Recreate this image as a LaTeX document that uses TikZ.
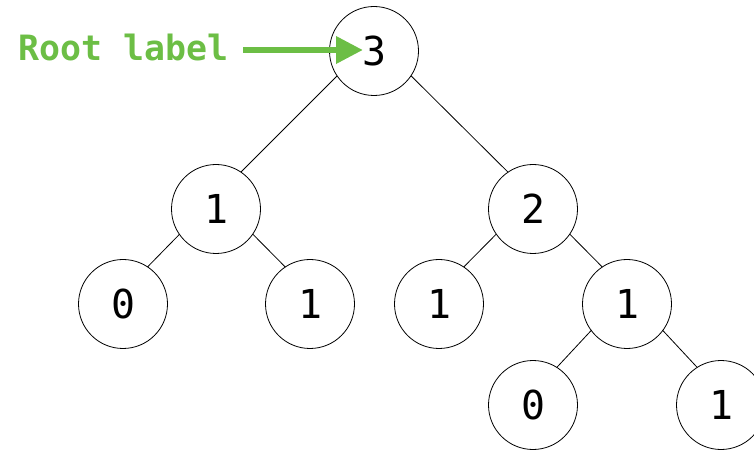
\documentclass[tikz,border=0pt]{standalone}
\usepackage{fontspec}
\setmonofont{DejaVu Sans Mono}
\usepackage{xcolor}
\usepackage{tikz}
\usetikzlibrary{arrows.meta}
\definecolor{labelgreen}{RGB}{108,190,69}
\tikzset{
  treenode/.style={draw, circle, line width=0.8bp, minimum size=89bp, inner sep=0pt,
    font=\ttfamily\fontsize{40}{40}\selectfont},
  treeedge/.style={line width=0.8bp, shorten <=52bp, shorten >=35bp},
}
\newcommand{\edge}[2]{\draw[treeedge] ([yshift=12bp]#1.center) -- ([yshift=12bp]#2.center);}

\begin{document}
\begin{tikzpicture}[x=1bp, y=-1bp]
          \useasboundingbox (0,0) rectangle (754,450);
          % tree nodes
          \node[treenode] (root) at (374,51) {3};
          \node[treenode] (l) at (216,209) {1};
          \node[treenode] (r) at (533,209) {2};
          \node[treenode] (ll) at (123,304) {0};
          \node[treenode] (lr) at (310,304) {1};
          \node[treenode] (rl) at (439,304) {1};
          \node[treenode] (rr) at (627,304) {1};
          \node[treenode] (rrl) at (533,405) {0};
          \node[treenode] (rrr) at (721,405) {1};
          % edges
          \edge{root}{l}
          \edge{root}{r}
          \edge{l}{ll}
          \edge{l}{lr}
          \edge{r}{rl}
          \edge{r}{rr}
          \edge{rr}{rrl}
          \edge{rr}{rrr}
          % root label
          \node[anchor=east, inner sep=0pt, text=labelgreen,
            font=\ttfamily\bfseries\fontsize{35}{35}\selectfont] (rootlabel) at (229,48) {Root label};
          \coordinate (tip) at (363,50);
          \draw[labelgreen, line width=6.5bp, -{Triangle[length=27bp, width=26bp]}]
            ([xshift=14bp]rootlabel.east |- tip) -- (tip);
        \end{tikzpicture}
\end{document}
